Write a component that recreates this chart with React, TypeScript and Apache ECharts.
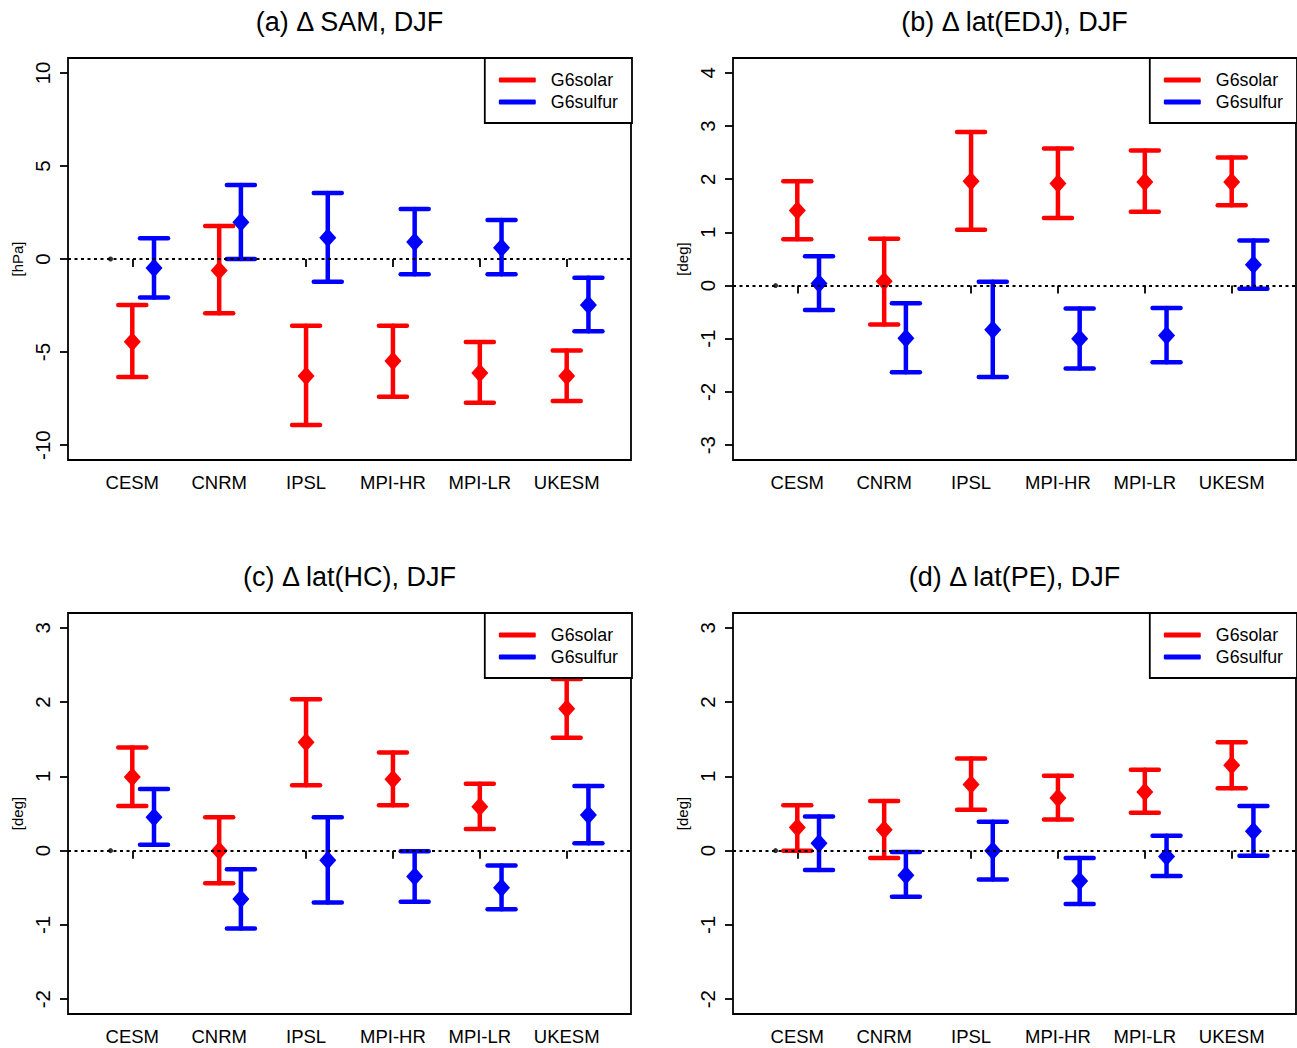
import React, { useEffect, useRef } from "react";
import * as echarts from "echarts";

const models = ["CESM", "CNRM", "IPSL", "MPI-HR", "MPI-LR", "UKESM"];
const modelX = [1, 2, 3, 4, 5, 6];

// (a) SAM
const samSolarMean = [-4.44, -0.62, -6.29, -5.48, -6.13, -6.29];
const samSolarLo = [-6.34, -2.91, -8.92, -7.4, -7.72, -7.63];
const samSolarHi = [-2.47, 1.77, -3.58, -3.58, -4.46, -4.91];
const samSulfurMean = [-0.49, 1.98, 1.14, 0.92, 0.6, -2.47];
const samSulfurLo = [-2.07, 0.0, -1.22, -0.82, -0.82, -3.88];
const samSulfurHi = [1.12, 3.97, 3.54, 2.68, 2.09, -1.01];

// (b) EDJ
const edjSolarMean = [1.41, 0.08, 1.96, 1.92, 1.95, 1.95];
const edjSolarLo = [0.87, -0.73, 1.05, 1.27, 1.39, 1.51];
const edjSolarHi = [1.96, 0.88, 2.89, 2.58, 2.54, 2.41];
const edjSulfurMean = [0.04, -0.99, -0.83, -1.0, -0.94, 0.39];
const edjSulfurLo = [-0.46, -1.63, -1.72, -1.56, -1.44, -0.06];
const edjSulfurHi = [0.55, -0.33, 0.07, -0.43, -0.42, 0.85];

// (c) HC
const hcSolarMean = [0.99, 0.0, 1.46, 0.96, 0.59, 1.91];
const hcSolarLo = [0.6, -0.44, 0.88, 0.61, 0.29, 1.52];
const hcSolarHi = [1.39, 0.45, 2.04, 1.32, 0.9, 2.31];
const hcSulfurMean = [0.45, -0.65, -0.13, -0.35, -0.5, 0.48];
const hcSulfurLo = [0.08, -1.05, -0.7, -0.69, -0.79, 0.1];
const hcSulfurHi = [0.83, -0.25, 0.45, -0.01, -0.2, 0.87];

// (d) PE
const peSolarMean = [0.31, 0.28, 0.89, 0.71, 0.79, 1.15];
const peSolarLo = [0.0, -0.1, 0.55, 0.42, 0.51, 0.84];
const peSolarHi = [0.61, 0.67, 1.24, 1.01, 1.09, 1.46];
const peSulfurMean = [0.1, -0.33, 0.0, -0.41, -0.08, 0.26];
const peSulfurLo = [-0.26, -0.62, -0.39, -0.72, -0.34, -0.07];
const peSulfurHi = [0.46, -0.02, 0.39, -0.1, 0.2, 0.6];

const titles = ["(a) Δ SAM, DJF", "(b) Δ lat(EDJ), DJF", "(c) Δ lat(HC), DJF", "(d) Δ lat(PE), DJF"];
const units = ["[hPa]", "[deg]", "[deg]", "[deg]"];
const yTicksA = [-10, -5, 0, 5, 10];
const yTicksB = [-3, -2, -1, 0, 1, 2, 3, 4];
const yTicksCD = [-2, -1, 0, 1, 2, 3];
const yRanges = [
  [-10.8, 10.8],
  [-3.28, 4.28],
  [-2.2, 3.2],
  [-2.2, 3.2],
];
const xRange = [0.26, 6.74];
const sulfurOffset = 0.25;
const refX = 0.75;

const RED = "#ff0000";
const BLUE = "#0000ff";
const FONT = "Liberation Sans, Arial, Helvetica, sans-serif";

const panels = [
  { solar: [samSolarMean, samSolarLo, samSolarHi], sulfur: [samSulfurMean, samSulfurLo, samSulfurHi], ticks: yTicksA },
  { solar: [edjSolarMean, edjSolarLo, edjSolarHi], sulfur: [edjSulfurMean, edjSulfurLo, edjSulfurHi], ticks: yTicksB },
  { solar: [hcSolarMean, hcSolarLo, hcSolarHi], sulfur: [hcSulfurMean, hcSulfurLo, hcSulfurHi], ticks: yTicksCD },
  { solar: [peSolarMean, peSolarLo, peSolarHi], sulfur: [peSulfurMean, peSulfurLo, peSulfurHi], ticks: yTicksCD },
];

const W = 1297;
const grids = [
  { left: 68, top: 58, width: 563, height: 402 },
  { left: 733, top: 58, width: 563, height: 402 },
  { left: 68, top: 613, width: 563, height: 401 },
  { left: 733, top: 613, width: 563, height: 401 },
];

function errorBarRender(color: string) {
  return (params: any, api: any) => {
    const x = api.value(0);
    const lo = api.value(1);
    const hi = api.value(2);
    const pLo = api.coord([x, lo]);
    const pHi = api.coord([x, hi]);
    const hw = 14;
    const style = { stroke: color, lineWidth: 4.5, lineCap: "round" };
    return {
      type: "group",
      children: [
        { type: "line", shape: { x1: pLo[0], y1: pLo[1], x2: pHi[0], y2: pHi[1] }, style },
        { type: "line", shape: { x1: pLo[0] - hw, y1: pLo[1], x2: pLo[0] + hw, y2: pLo[1] }, style },
        { type: "line", shape: { x1: pHi[0] - hw, y1: pHi[1], x2: pHi[0] + hw, y2: pHi[1] }, style },
      ],
    };
  };
}

export default function App() {
  const ref = useRef<HTMLDivElement>(null);
  useEffect(() => {
    if (!ref.current) return;
    const chart = echarts.init(ref.current, null, { renderer: "svg" });

    const series: any[] = [];
    panels.forEach((p, i) => {
      series.push({
        type: "scatter",
        name: "ref" + i,
        xAxisIndex: i,
        yAxisIndex: i,
        data: [[refX, 0]],
        symbol: "circle",
        symbolSize: 5,
        itemStyle: { color: "#000" },
        silent: true,
        z: 1,
        markLine: {
          silent: true,
          symbol: ["none", "none"],
          label: { show: false },
          lineStyle: { color: "#000", width: 2.2, type: [3, 3.5] },
          data: [{ yAxis: 0 }],
        },
      });
      const groups: [string, string, number[][], number][] = [
        ["G6solar", RED, p.solar, 0],
        ["G6sulfur", BLUE, p.sulfur, sulfurOffset],
      ];
      groups.forEach(([name, color, arrs, off]) => {
        const [mean, lo, hi] = arrs;
        series.push({
          type: "custom",
          name,
          xAxisIndex: i,
          yAxisIndex: i,
          color,
          itemStyle: { color },
          renderItem: errorBarRender(color),
          encode: { x: 0, y: [1, 2] },
          data: modelX.map((x, k) => [x + off, lo[k], hi[k]]),
          silent: true,
          z: 2,
        });
        series.push({
          type: "scatter",
          name,
          xAxisIndex: i,
          yAxisIndex: i,
          symbol: "diamond",
          symbolSize: [17, 19],
          itemStyle: { color, opacity: 1 },
          data: modelX.map((x, k) => [x + off, mean[k]]),
          silent: true,
          z: 3,
        });
      });
    });

    const option: any = {
      animation: false,
      backgroundColor: "#ffffff",
      textStyle: { fontFamily: FONT },
      title: grids.map((g, i) => ({
        text: titles[i],
        left: g.left + g.width / 2,
        top: g.top - 50,
        textAlign: "center",
        padding: 0,
        textStyle: { fontFamily: FONT, fontSize: 27, fontWeight: "normal", color: "#000" },
      })),
      legend: grids.map((g, i) => ({
        right: W - (g.left + g.width) - 1,
        top: g.top,
        orient: "vertical",
        data: ["G6solar", "G6sulfur"],
        icon: "roundRect",
        itemWidth: 37,
        itemHeight: 5,
        itemGap: 2,
        padding: [12, 14, 11, 14],
        borderColor: "#000",
        borderWidth: 1.8,
        borderRadius: 0,
        backgroundColor: "#ffffff",
        selectedMode: false,
        z: 10,
        textStyle: { fontFamily: FONT, fontSize: 17.8, lineHeight: 20, color: "#000", padding: [0, 0, 0, 10] },
      })),
      grid: grids.map((g) => ({
        ...g,
        show: true,
        borderColor: "#000",
        borderWidth: 1.8,
        backgroundColor: "transparent",
        containLabel: false,
      })),
      xAxis: grids.map((g, i) => ({
        type: "value",
        gridIndex: i,
        min: xRange[0],
        max: xRange[1],
        axisLine: { show: false },
        splitLine: { show: false },
        axisTick: {
          show: true,
          inside: false,
          length: 8,
          customValues: modelX,
          lineStyle: { color: "#000", width: 1.8 },
        },
        axisLabel: {
          show: true,
          customValues: modelX,
          margin: 13,
          fontFamily: FONT,
          fontSize: 18.5,
          color: "#000",
          formatter: (v: number) => models[Math.round(v) - 1] ?? "",
        },
      })),
      yAxis: grids.map((g, i) => ({
        type: "value",
        gridIndex: i,
        min: yRanges[i][0],
        max: yRanges[i][1],
        name: units[i],
        nameLocation: "middle",
        nameRotate: 90,
        nameGap: 43,
        nameTextStyle: { fontFamily: FONT, fontSize: 15, color: "#000" },
        axisLine: { show: false },
        splitLine: { show: false },
        axisTick: {
          show: true,
          inside: false,
          length: 8,
          customValues: panels[i].ticks,
          lineStyle: { color: "#000", width: 1.8 },
        },
        axisLabel: {
          show: true,
          customValues: panels[i].ticks,
          rotate: 90,
          margin: 15,
          fontFamily: FONT,
          fontSize: 20.5,
          color: "#000",
          formatter: (v: number) => String(v),
        },
      })),
      series,
    };
    chart.setOption(option);
    return () => chart.dispose();
  }, []);
  return (
    <div
      ref={ref}
      style={{ position: "fixed", left: 0, top: 0, width: 1297, height: 1048, background: "#fff" }}
    />
  );
}
